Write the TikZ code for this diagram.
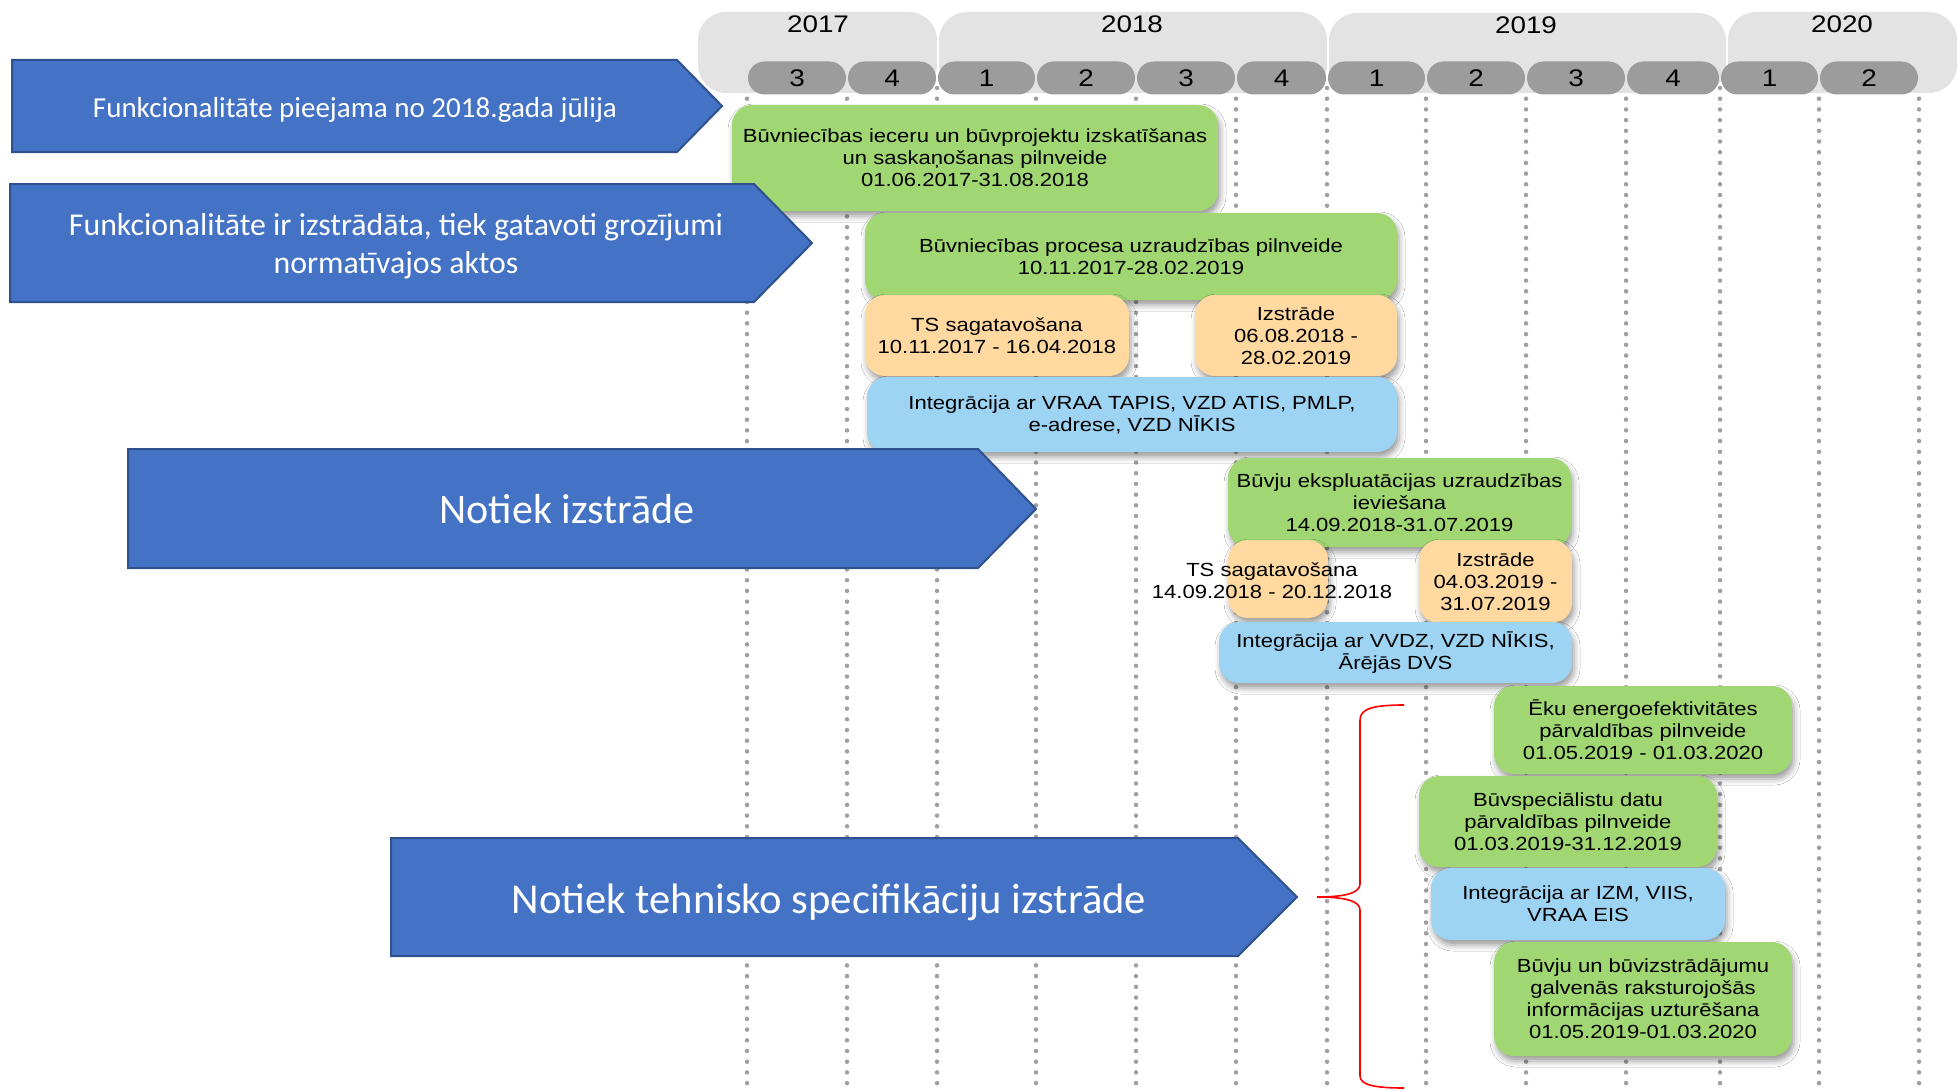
\documentclass[tikz,border=0pt]{standalone}
\usepackage{fontspec}
\setmainfont{Liberation Sans}
\newfontfamily\boxfnt[FakeStretch=1.16]{Liberation Sans}
\newfontfamily\calfnt{Carlito}
\usetikzlibrary{shadows.blur}
\definecolor{arrowblue}{HTML}{4472C4}
\definecolor{arrowedge}{HTML}{2F528F}
\definecolor{boxgreen}{HTML}{A0D773}
\definecolor{boxpeach}{HTML}{FFD9A0}
\definecolor{boxblue}{HTML}{9DD3F3}
\definecolor{bandgray}{HTML}{E3E3E3}
\definecolor{pillgray}{HTML}{9C9C9C}
\definecolor{dotgray}{HTML}{A0A0A0}
\tikzset{
  dotline/.style={draw=dotgray, line width=4.5pt, line cap=round, dash pattern=on 0pt off 10.7pt},
  band/.style={fill=bandgray, draw=none, rounded corners=28pt},
  pill/.style={fill=pillgray, draw=none, rounded corners=16.5pt, minimum height=33pt, inner sep=0pt, font=\boxfnt\fontsize{24}{26}\selectfont},
  yearlbl/.style={font=\boxfnt\fontsize{24}{26}\selectfont, inner sep=0pt},
  arrowshape/.style={fill=arrowblue, draw=arrowedge, line width=2pt, line join=miter},
  arrowtext/.style={text=white, align=center, inner sep=0pt},
  tbox/.style={rounded corners=20pt, draw=none, inner sep=0pt, align=center,
     font=\boxfnt\fontsize{19}{22}\selectfont,
     blur shadow={shadow xshift=2pt, shadow yshift=-5pt, shadow blur radius=6pt, shadow opacity=40}},
  gbox/.style={tbox, fill=boxgreen},
  obox/.style={tbox, fill=boxpeach},
  bbox/.style={tbox, fill=boxblue},
  brace/.style={draw=red, line width=1.6pt}
}
\begin{document}
\begin{tikzpicture}[x=1pt,y=-1pt]
\useasboundingbox (0,0) rectangle (1958,1089);
\fill[white] (0,0) rectangle (1958,1089);
% dotted quarter lines
\foreach \xx in {747,847,937,1036,1136,1236,1327,1426,1526,1626,1720,1819,1919}
  \draw[dotline] (\xx,88) -- (\xx,1089);
% year bands
\fill[band] (698,12) rectangle (937,93);
\fill[band] (939,12) rectangle (1327,93);
\fill[band] (1329,13) rectangle (1726,93);
\fill[band] (1728,12) rectangle (1957,93);
\node[yearlbl] (y2017) at (818,24) {2017};
\node[yearlbl] (y2018) at (1132,24) {2018};
\node[yearlbl] (y2019) at (1526,25) {2019};
\node[yearlbl] (y2020) at (1842,24) {2020};
% quarter pills
\node[pill, minimum width=98pt] (q1) at (797,78) {3};
\node[pill, minimum width=88pt] (q2) at (892,78) {4};
\node[pill, minimum width=97pt] (q3) at (986.5,78) {1};
\node[pill, minimum width=98pt] (q4) at (1086,78) {2};
\node[pill, minimum width=98pt] (q5) at (1186,78) {3};
\node[pill, minimum width=89pt] (q6) at (1281.5,78) {4};
\node[pill, minimum width=97pt] (q7) at (1376.5,78) {1};
\node[pill, minimum width=98pt] (q8) at (1476,78) {2};
\node[pill, minimum width=98pt] (q9) at (1576,78) {3};
\node[pill, minimum width=92pt] (q10) at (1673,78) {4};
\node[pill, minimum width=97pt] (q11) at (1769.5,78) {1};
\node[pill, minimum width=98pt] (q12) at (1869,78) {2};
% boxes
\node[gbox, minimum width=486pt, minimum height=106pt] (g1) at (975,158)
  {Būvniecības ieceru un būvprojektu izskatīšanas\\un saskaņošanas pilnveide\\01.06.2017-31.08.2018};
\node[gbox, minimum width=532pt, minimum height=87pt] (g2) at (1131,256.5)
  {Būvniecības procesa uzraudzības pilnveide\\10.11.2017-28.02.2019};
\node[obox, minimum width=264pt, minimum height=81pt] (o1) at (997,335.5)
  {TS sagatavošana\\10.11.2017 - 16.04.2018};
\node[obox, minimum width=202pt, minimum height=81pt] (o2) at (1296,335.5)
  {Izstrāde\\06.08.2018 -\\28.02.2019};
\node[bbox, minimum width=530pt, minimum height=75pt] (b1) at (1132,414.5)
  {Integrācija ar VRAA TAPIS, VZD ATIS, PMLP,\\e-adrese, VZD NĪKIS};
\node[gbox, minimum width=343pt, minimum height=89pt] (g3) at (1399.5,502.5)
  {Būvju ekspluatācijas uzraudzības\\ieviešana\\14.09.2018-31.07.2019};
\node[obox, minimum width=100pt, minimum height=78pt] (o3) at (1278,579) {};
\node[inner sep=0pt, align=center, font=\boxfnt\fontsize{19}{22}\selectfont] (o3t) at (1272,581)
  {TS sagatavošana\\14.09.2018 - 20.12.2018};
\node[obox, minimum width=153pt, minimum height=83pt] (o4) at (1495.5,581.5)
  {Izstrāde\\04.03.2019 -\\31.07.2019};
\node[bbox, minimum width=353pt, minimum height=61pt] (b2) at (1395.5,652.5)
  {Integrācija ar VVDZ, VZD NĪKIS,\\Ārējās DVS};
\node[gbox, minimum width=298pt, minimum height=88pt] (g4) at (1643,730)
  {Ēku energoefektivitātes\\pārvaldības pilnveide\\01.05.2019 - 01.03.2020};
\node[gbox, minimum width=298pt, minimum height=91pt] (g5) at (1568,821.5)
  {Būvspeciālistu datu\\pārvaldības pilnveide\\01.03.2019-31.12.2019};
\node[bbox, minimum width=294pt, minimum height=72pt] (b3) at (1578,904)
  {Integrācija ar IZM, VIIS,\\VRAA EIS};
\node[gbox, minimum width=298pt, minimum height=114pt] (g6) at (1643,999)
  {Būvju un būvizstrādājumu\\galvenās raksturojošās\\informācijas uzturēšana\\01.05.2019-01.03.2020};
% blue arrows
\draw[arrowshape] (12,60) -- (677,60) -- (722,106) -- (677,152) -- (12,152) -- cycle;
\node[arrowtext, font=\calfnt\fontsize{29}{34}\selectfont] (a1) at (355,110)
  {Funkcionalitāte pieejama no 2018.gada jūlija};
\draw[arrowshape] (10,184) -- (754,184) -- (812,243) -- (754,302) -- (10,302) -- cycle;
\node[arrowtext, font=\calfnt\fontsize{31.8}{37.5}\selectfont] (a2) at (396,246)
  {Funkcionalitāte ir izstrādāta, tiek gatavoti grozījumi\\normatīvajos aktos};
\draw[arrowshape] (128,449) -- (978,449) -- (1036,509) -- (978,568) -- (128,568) -- cycle;
\node[arrowtext, font=\calfnt\fontsize{42}{48}\selectfont] (a3) at (567,509) {Notiek izstrāde};
\draw[arrowshape] (391,838) -- (1238,838) -- (1297,897) -- (1238,956) -- (391,956) -- cycle;
\node[arrowtext, font=\calfnt\fontsize{42.6}{48}\selectfont] (a4) at (829,902)
  {Notiek tehnisko specifikāciju izstrāde};
% red brace
\coordinate (brtop) at (1404,705);
\coordinate (brtip) at (1317,897);
\coordinate (brbot) at (1404,1088);
\draw[brace] (brtop) .. controls (1375,705) and (1360,708) .. (1360,720) -- (1360,884)
  .. controls (1360,893) and (1345,897) .. (brtip)
  .. controls (1345,897) and (1360,901) .. (1360,910) -- (1360,1076)
  .. controls (1360,1085) and (1375,1088) .. (brbot);
\end{tikzpicture}
\end{document}
